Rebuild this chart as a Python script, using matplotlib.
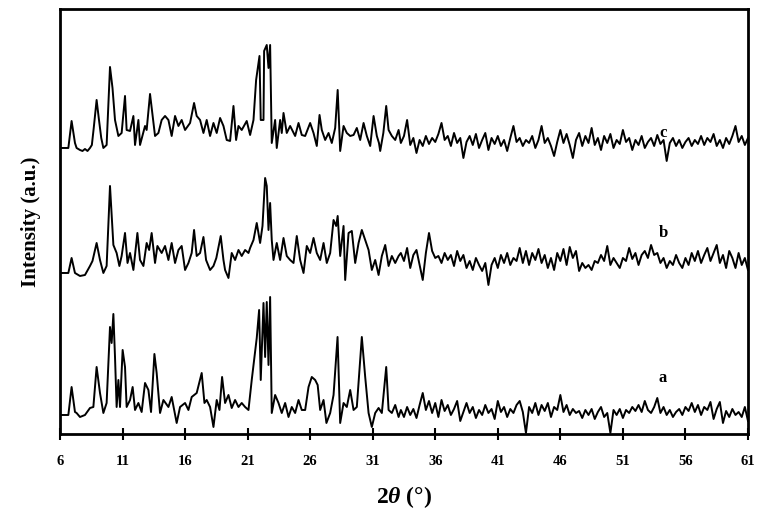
import matplotlib
matplotlib.use('Agg')
import matplotlib.pyplot as plt
import numpy as np

plt.rcParams['font.family'] = ['Liberation Serif', 'DejaVu Serif']
plt.rcParams['mathtext.fontset'] = 'custom'
plt.rcParams['mathtext.rm'] = 'Liberation Serif:bold'
plt.rcParams['mathtext.it'] = 'Liberation Serif:italic:bold'
plt.rcParams['mathtext.bf'] = 'Liberation Serif:bold'

# ---- low-angle region (read point by point): 2theta, height above the trace baseline
c_theta = [6.0, 6.67, 6.93, 7.2, 7.33, 7.6, 7.8, 8.0, 8.2, 8.4, 8.55, 8.7, 8.93, 9.1, 9.3, 9.47, 9.73,
           10.0, 10.2, 10.4, 10.67, 10.93, 11.2, 11.33, 11.6, 11.87, 12.0, 12.27, 12.4, 12.8, 12.93,
           13.2, 13.6, 13.87, 14.13, 14.4, 14.67, 14.93, 15.2, 15.47, 15.73, 16.0, 16.4, 16.72,
           16.93, 17.2, 17.47, 17.73, 18.0, 18.27, 18.53, 18.8, 19.07, 19.33, 19.6, 19.87, 20.08,
           20.27, 20.53, 20.93, 21.2, 21.47, 21.68, 21.95, 22.05, 22.27, 22.32, 22.53, 22.67, 22.8,
           22.93, 23.2, 23.33, 23.6, 23.73, 23.87, 24.13, 24.4, 24.8, 25.07, 25.33, 25.6, 26.0,
           26.27, 26.53, 26.75, 26.93, 27.2, 27.47, 27.73, 28.0, 28.2, 28.4, 28.67, 28.93, 29.2,
           29.47, 29.73, 30.0, 30.27, 30.53, 30.8, 31.07, 31.33, 31.5, 31.6, 31.85, 32.08, 32.27,
           32.53, 32.8, 33.07]
c_head = [0, 0, 27, 5, 0, -2, -3, -1, -3, 0, 3, 20, 48, 30, 10, 0, 3,
          81, 60, 28, 12, 15, 52, 18, 17, 32, 3, 28, 3, 22, 18,
          54, 12, 15, 28, 32, 28, 12, 32, 22, 28, 18, 25, 45,
          32, 28, 15, 28, 12, 25, 15, 30, 22, 8, 7, 42, 8,
          22, 18, 27, 13, 28, 68, 92, 28, 28, 97, 103, 80, 103,
          5, 28, 0, 28, 15, 35, 15, 22, 12, 25, 13, 12, 25,
          15, 2, 33, 18, 8, 15, 5, 20, 58, -3, 22, 15, 12,
          13, 20, 8, 25, 12, 2, 32, 12, 5, -3, 15, 42, 18,
          12, 8, 18]

b_theta = [6.0, 6.67, 6.93, 7.2, 7.6, 8.0, 8.4, 8.6, 8.93, 9.2, 9.47, 9.73, 10.0, 10.27, 10.53, 10.75,
           10.93, 11.2, 11.4, 11.6, 11.87, 12.19, 12.4, 12.67, 12.93, 13.13, 13.33, 13.6, 13.79,
           14.13, 14.4, 14.67, 14.93, 15.2, 15.47, 15.73, 16.0, 16.27, 16.53, 16.72, 16.93, 17.2,
           17.47, 17.68, 18.0, 18.27, 18.5, 18.85, 19.07, 19.2, 19.47, 19.73, 20.0, 20.27, 20.53,
           20.8, 21.07, 21.2, 21.47, 21.73, 22.0, 22.19, 22.4, 22.53, 22.67, 22.8, 22.93, 23.07,
           23.33, 23.6, 23.87, 24.13, 24.4, 24.67, 24.93, 25.2, 25.47, 25.73, 26.0, 26.27, 26.53,
           26.8, 27.07, 27.33, 27.6, 27.87, 28.08, 28.2, 28.4, 28.67, 28.8, 29.07, 29.33, 29.6,
           29.87, 30.13, 30.4, 30.67, 30.93, 31.2, 31.47, 31.73, 32.0, 32.27, 32.53, 32.8, 33.07]
b_head = [0, 0, 15, 0, -3, -2, 7, 12, 30, 13, 0, 7, 87, 28, 20, 7,
          17, 40, 10, 20, 3, 40, 13, 7, 30, 23, 40, 10, 27,
          20, 27, 13, 30, 10, 23, 27, 3, 10, 20, 43, 17, 20,
          36, 13, 3, 7, 15, 37, 13, 3, -5, 20, 13, 23, 17,
          23, 20, 25, 33, 50, 30, 47, 95, 87, 43, 70, 33, 13,
          30, 13, 35, 17, 13, 10, 37, 13, 0, 27, 20, 35, 20,
          13, 30, 10, 20, 53, 47, 57, 17, 47, -7, 40, 42, 10,
          30, 43, 33, 23, 3, 13, -2, 17, 28, 7, 17, 10, 17]

a_theta = [6.0, 6.67, 6.93, 7.2, 7.33, 7.6, 8.0, 8.4, 8.67, 8.93, 9.2, 9.47, 9.73, 10.0, 10.13, 10.27,
           10.4, 10.53, 10.67, 10.8, 11.01, 11.2, 11.33, 11.6, 11.81, 12.0, 12.27, 12.53, 12.8, 13.07,
           13.28, 13.55, 13.73, 14.0, 14.27, 14.67, 14.93, 15.33, 15.6, 16.0, 16.27, 16.53, 16.93,
           17.33, 17.55, 17.73, 18.0, 18.27, 18.53, 18.75, 18.96, 19.2, 19.47, 19.73, 20.0, 20.27,
           20.53, 20.8, 21.07, 21.33, 21.52, 21.73, 21.92, 22.05, 22.27, 22.4, 22.53, 22.67, 22.8,
           22.93, 23.2, 23.47, 23.73, 24.0, 24.27, 24.53, 24.8, 25.07, 25.33, 25.6, 25.87, 26.13,
           26.4, 26.6, 26.8, 27.07, 27.3, 27.6, 27.87, 28.19, 28.4, 28.67, 28.93, 29.2, 29.47,
           29.73, 30.13, 30.4, 30.67, 30.93, 31.2, 31.47, 31.73, 32.08, 32.27, 32.53, 32.8, 33.07]
a_head = [0, 0, 28, 3, 2, -2, 0, 7, 8, 48, 22, 2, 12, 88, 72, 101,
          58, 8, 35, 8, 65, 48, 8, 15, 28, 5, 12, 3, 32, 25,
          3, 61, 42, 2, 15, 8, 18, -8, 8, 12, 5, 18, 22,
          42, 12, 15, 8, -12, 15, 5, 38, 12, 20, 7, 15, 8,
          12, 8, 5, 35, 55, 77, 105, 35, 112, 58, 113, 50, 118,
          2, 20, 12, 2, 12, -2, 8, 2, 15, 5, 5, 28, 38,
          35, 30, 5, 15, -8, 2, 20, 78, -8, 12, 8, 25, 5,
          8, 78, 38, 2, -12, 2, 7, 2, 48, 5, 2, 10, -2]

# ---- high-angle region, read every 0.25 degree from 33.25 to 61
c_tail = [5, 12, 28, 3, 10, -5, 8, 2, 12, 4, 10, 6, 14, 25, 8, 12, 2, 15, 5, 10,
          -10, 6, 12, 3, 14, 0, 8, 15, -2, 10, 4, 12, 2, 8, -3, 10, 22, 6, 10, 2,
          8, 5, 12, 0, 8, 22, 5, 10, 2, -8, 6, 18, 5, 14, 3, -10, 8, 15, 2, 12,
          5, 20, 3, 10, -2, 12, 5, 14, 0, 8, 4, 18, 6, 10, -2, 8, 3, 12, 0, 6,
          10, 2, 13, 4, 8, -13, 5, 10, 2, 8, 0, 6, 10, 2, 8, 4, 12, 3, 10, 6,
          14, 2, 8, 0, 10, 4, 12, 22, 6, 12, 3, 10]
b_tail = [20, 12, 25, 5, 18, 23, 8, -7, 20, 40, 22, 15, 17, 10, 20, 13, 18, 7, 22, 12,
          18, 5, 12, 3, 15, 8, 2, 10, -12, 8, 15, 5, 18, 10, 20, 8, 15, 12, 25, 10,
          22, 8, 20, 13, 24, 10, 18, 5, 15, 3, 20, 12, 24, 8, 26, 15, 22, 2, 10, 5,
          8, 3, 12, 10, 18, 12, 27, 8, 15, 10, 5, 15, 12, 25, 14, 20, 8, 18, 22, 15,
          28, 18, 20, 10, 15, 5, 12, 8, 18, 10, 5, 15, 8, 20, 12, 22, 10, 18, 25, 12,
          20, 28, 10, 18, 5, 22, 15, 5, 20, 8, 15, 3]
a_tail = [5, -2, 8, 0, 6, -3, 10, 22, 5, 14, 2, 12, -2, 15, 4, 10, 0, 6, 14, -6,
          3, 12, 2, 8, -3, 5, 0, 10, 2, 6, -4, 14, 3, 8, -2, 6, 2, 10, 14, 3,
          -18, 8, 2, 12, 0, 10, 4, 12, -2, 8, 5, 20, 3, 10, 0, 6, 2, 4, -3, 5,
          0, 6, -4, 3, 8, -2, 2, -18, 5, 0, 6, -3, 5, 2, 8, 4, 10, 3, 14, 5,
          2, 8, 17, 2, 8, 0, 5, -2, 3, 6, 0, 8, 4, 12, 3, 10, 0, 8, 5, 13,
          -4, 6, 13, -8, 4, -2, 6, 0, 3, -2, 8, -6]

tail_theta = np.arange(33.25, 61.01, 0.25)

# vertical stacking of the three patterns
offsets = {'a': 19, 'b': 161, 'c': 286}
series = {
    'a': (a_theta, a_head, a_tail),
    'b': (b_theta, b_head, b_tail),
    'c': (c_theta, c_head, c_tail),
}
label_y = {'a': 56, 'b': 201, 'c': 301}

fig = plt.figure(figsize=(7.59, 5.22), dpi=100)
ax = fig.add_axes([0.079, 0.1686, 0.9065, 0.8142])

for key, (th, head, tail) in series.items():
    x = np.concatenate([th, tail_theta])
    y = np.concatenate([head, tail]) + offsets[key]
    ax.plot(x, y, color='black', lw=1.4)
    ax.text(54.2, label_y[key], key, fontsize=12, fontweight='bold', ha='center', va='center')

ax.set_xlim(6, 61)
ax.set_ylim(0, 425)
ax.set_xticks(np.arange(6, 62, 5))
ax.set_yticks([])
ax.tick_params(axis='x', direction='inout', length=8, width=1.5, pad=11, labelsize=10.5)
for lbl in ax.get_xticklabels():
    lbl.set_fontweight('bold')
for s in ax.spines.values():
    s.set_linewidth(2)

ax.set_xlabel(r'2$\theta$ (°)', fontsize=17, fontweight='bold', labelpad=12)
ax.set_ylabel('Intensity (a.u.)', fontsize=15, fontweight='bold', labelpad=14)

fig.savefig('out.png', dpi=100)
